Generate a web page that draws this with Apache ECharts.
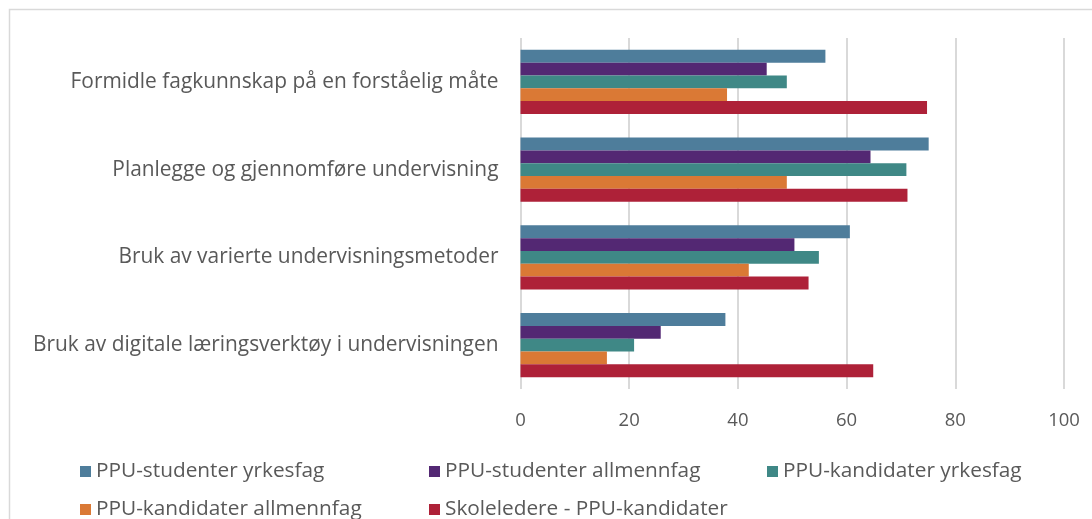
<!DOCTYPE html>
<html><head><meta charset="utf-8">
<script src="https://cdn.jsdelivr.net/npm/echarts@6/dist/echarts.min.js"></script>
<style>html,body{margin:0;padding:0;background:#fff}#c{width:1092px;height:519px}</style>
</head><body><div id="c"></div>
<script>
const categories = [
  "Formidle fagkunnskap på en forståelig måte",
  "Planlegge og gjennomføre undervisning",
  "Bruk av varierte undervisningsmetoder",
  "Bruk av digitale læringsverktøy i undervisningen"
];
const seriesNames = ["PPU-studenter yrkesfag","PPU-studenter allmennfag","PPU-kandidater yrkesfag","PPU-kandidater allmennfag","Skoleledere - PPU-kandidater"];
const ppuStudYrkesfag = [56.1, 75.1, 60.6, 37.7];
const ppuStudAllmennfag = [45.3, 64.4, 50.4, 25.8];
const ppuKandYrkesfag = [49.0, 71.0, 54.9, 20.9];
const ppuKandAllmennfag = [38.0, 49.0, 42.0, 15.9];
const skoleledere = [74.8, 71.2, 53.0, 64.9];
const xTicks = [0, 20, 40, 60, 80, 100];

const colors = ["#4e7d9b","#532873","#3f8886","#da7935","#ae2138"];
const values = [ppuStudYrkesfag, ppuStudAllmennfag, ppuKandYrkesfag, ppuKandAllmennfag, skoleledere];
const FONT = "Open Sans";
const chart = echarts.init(document.getElementById('c'), null, {renderer:'canvas'});
const legendPos = [[80,461],[429,461],[767,461],[80,499],[429,499]];
chart.setOption({
  animation:false,
  color: colors,
  textStyle:{fontFamily:FONT},
  graphic:[{type:'rect',shape:{x:9.5,y:9.5,width:1200,height:600},style:{fill:'none',stroke:'#d9d9d9',lineWidth:1.5},silent:true}],
  legend: seriesNames.map((n,i)=>({
    data:[n], left:legendPos[i][0], top:legendPos[i][1], padding:0, itemWidth:11, itemHeight:11, itemGap:0,
    icon:'rect', textStyle:{fontFamily:FONT, fontSize:20.8, color:'#595959', padding:[0,0,0,0]}, selectedMode:false
  })),
  grid:{left:520.5, right:28, top:38, bottom:130, containLabel:false},
  xAxis:{type:'value', min:xTicks[0], max:xTicks[xTicks.length-1], interval:xTicks[1]-xTicks[0],
    axisLine:{show:false}, axisTick:{show:false},
    splitLine:{lineStyle:{color:'#d9d9d9', width:2}},
    axisLabel:{fontFamily:FONT, fontSize:18.5, color:'#595959', margin:22}},
  yAxis:{type:'category', data:categories, inverse:true,
    axisLine:{show:false}, axisTick:{show:false},
    axisLabel:{fontFamily:FONT, fontSize:20.9, color:'#595959', margin:22}},
  series: seriesNames.map((n,i)=>({
    name:n, type:'bar', data:values[i], barGap:'0%', barCategoryGap:'27%',
    itemStyle:{color:colors[i]}
  }))
});
</script></body></html>
